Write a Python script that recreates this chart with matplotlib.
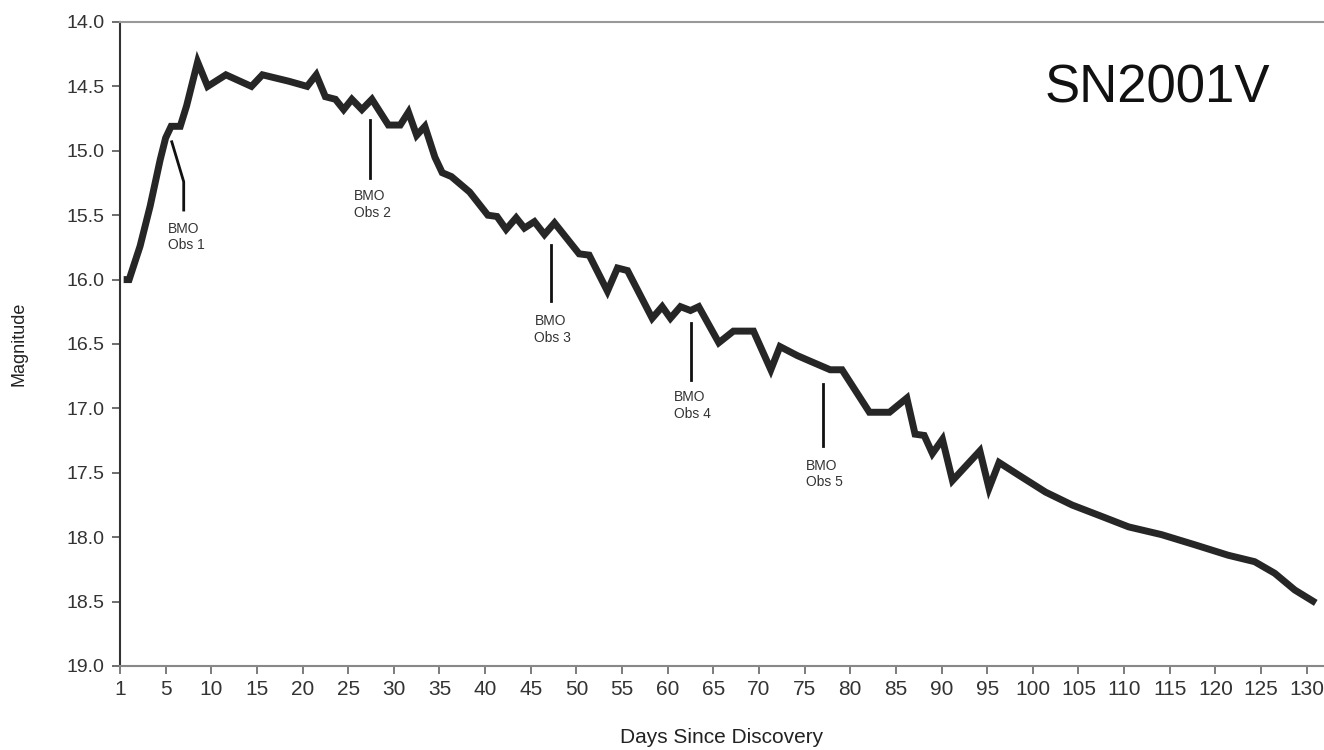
import numpy as np
import matplotlib
matplotlib.use("Agg")
import matplotlib.pyplot as plt

# light curve (x = days on the chart scale, y = magnitude)
days = [0.4, 1.0, 2.2, 3.3, 4.4, 5.0, 5.6, 6.6, 7.3, 8.5, 9.6, 11.6, 14.4, 15.6,
        18.5, 20.5, 21.5, 22.5, 23.6, 24.5, 25.4, 26.5, 27.6, 29.4, 30.7, 31.6,
        32.5, 33.4, 34.5, 35.3, 36.3, 38.3, 40.3, 41.3, 42.3, 43.4, 44.3, 45.4,
        46.5, 47.6, 50.3, 51.4, 53.4, 54.5, 55.6, 58.3, 59.4, 60.3, 61.4, 62.5,
        63.4, 65.6, 67.2, 69.4, 71.3, 72.3, 74.2, 75.5, 77.8, 79.1, 82.1, 84.3,
        86.2, 87.1, 88.1, 89.0, 90.1, 91.2, 94.2, 95.2, 96.3, 98.5, 101.4, 104.3,
        107.6, 110.5, 114.1, 117.8, 121.4, 124.3, 126.5, 128.7, 131.0]
mags = [16.00, 16.00, 15.74, 15.43, 15.07, 14.90, 14.81, 14.81, 14.65, 14.31,
        14.50, 14.41, 14.50, 14.41, 14.46, 14.50, 14.41, 14.58, 14.60, 14.68,
        14.60, 14.68, 14.60, 14.80, 14.80, 14.70, 14.88, 14.81, 15.05, 15.17,
        15.20, 15.32, 15.50, 15.51, 15.61, 15.52, 15.60, 15.55, 15.65, 15.56,
        15.80, 15.81, 16.09, 15.91, 15.93, 16.30, 16.21, 16.30, 16.21, 16.24,
        16.21, 16.49, 16.40, 16.40, 16.70, 16.52, 16.59, 16.63, 16.70, 16.70,
        17.03, 17.03, 16.92, 17.20, 17.21, 17.35, 17.24, 17.56, 17.33, 17.62,
        17.42, 17.52, 17.65, 17.75, 17.84, 17.92, 17.98, 18.06, 18.14, 18.19,
        18.28, 18.41, 18.51]

tick_pos = list(range(0, 131, 5))
tick_labels = ["1"] + [str(t) for t in range(5, 131, 5)]
y_ticks = [14.0, 14.5, 15.0, 15.5, 16.0, 16.5, 17.0, 17.5, 18.0, 18.5, 19.0]

# BMO observation markers: (label, line xs, line ys, text x, text y)
obs_names = ["BMO\nObs 1", "BMO\nObs 2", "BMO\nObs 3", "BMO\nObs 4", "BMO\nObs 5"]
obs_line_x = [[5.67, 6.98, 6.98], [27.4, 27.4], [47.25, 47.25], [62.5, 62.5], [77.0, 77.0]]
obs_line_y = [[14.93, 15.24, 15.46], [14.76, 15.21], [15.73, 16.17], [16.34, 16.78], [16.81, 17.29]]
obs_text_x = [5.27, 25.6, 45.4, 60.7, 75.1]
obs_text_y = [15.55, 15.30, 16.27, 16.86, 17.39]

plt.rcParams['font.family'] = ['Liberation Sans', 'DejaVu Sans']

fig = plt.figure(figsize=(13.24, 7.5), dpi=100)
ax = fig.add_axes([120 / 1324, 1 - 666 / 750, 1 - 120 / 1324, (666 - 22) / 750])

ax.plot(days, mags, color="#262626", linewidth=5, solid_joinstyle="miter",
        solid_capstyle="butt", clip_on=False)

for i in range(len(obs_names)):
    ax.plot(obs_line_x[i], obs_line_y[i], color="#111111", linewidth=2.0)
    ax.text(obs_text_x[i], obs_text_y[i], obs_names[i], fontsize=10, color="#333333",
            ha="left", va="top", linespacing=1.25)

ax.text(0.955, 0.8975, "SN2001V", transform=ax.transAxes, fontsize=38, color="#111111",
        ha="right", va="center")

ax.set_xlim(0, 131.9)
ax.set_ylim(19.0, 14.0)
ax.set_xticks(tick_pos)
ax.set_xticklabels(tick_labels)
ax.set_yticks(y_ticks)
ax.set_yticklabels([f"{v:.1f}" for v in y_ticks])

ax.spines["right"].set_visible(False)
ax.spines["top"].set_color("#999999")
ax.spines["top"].set_linewidth(1.5)
ax.spines["bottom"].set_color("#888888")
ax.spines["bottom"].set_linewidth(1.5)
ax.spines["left"].set_color("#333333")
ax.spines["left"].set_linewidth(1.5)

ax.tick_params(axis="y", direction="out", length=6, width=1.2, color="#555555",
               labelsize=14, labelcolor="#333333", pad=5)
ax.tick_params(axis="x", direction="out", length=6, width=1.2, color="#666666",
               labelsize=15, labelcolor="#333333", pad=4)

ax.set_xlabel("Days Since Discovery", fontsize=15, color="#222222", labelpad=21)
ax.set_ylabel("Magnitude", fontsize=13, color="#222222", labelpad=28)

fig.savefig("out.png", dpi=100, facecolor="white")
